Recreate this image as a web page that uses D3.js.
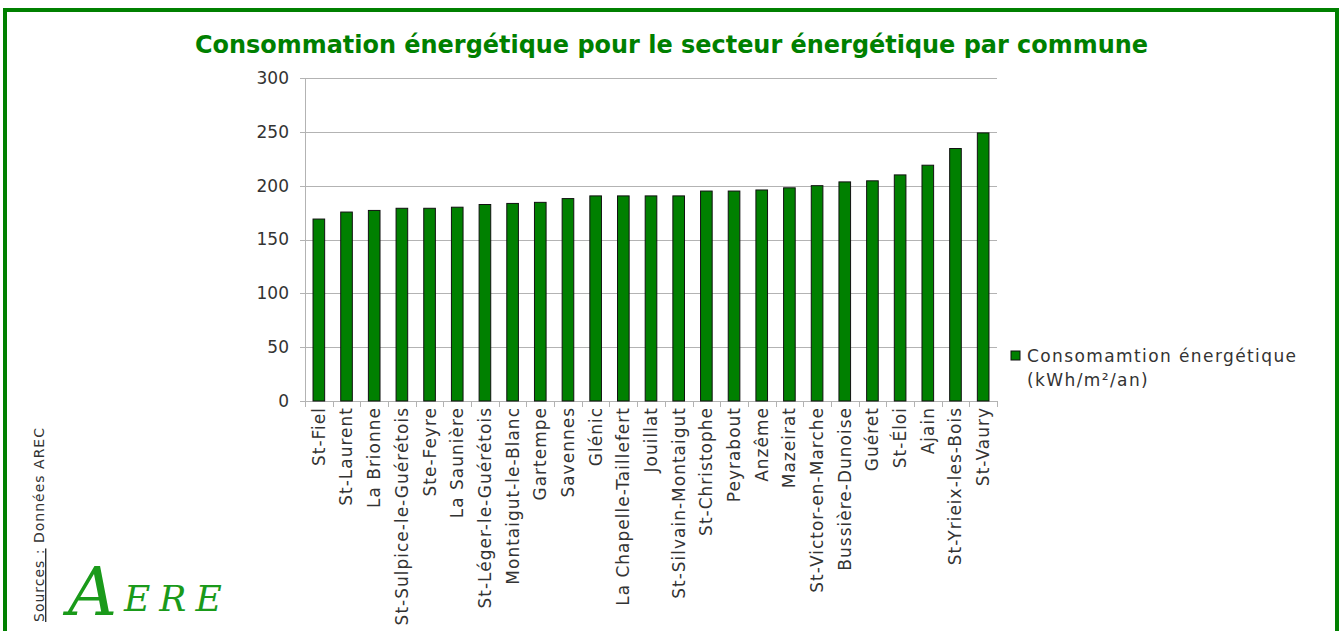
<!DOCTYPE html>
<html>
<head>
<meta charset="utf-8">
<script src="https://cdn.jsdelivr.net/npm/d3@7"></script>
<style>
  body { margin: 0; background: #fff; }
  svg { display: block; }
</style>
</head>
<body>
<div id="wrapper"></div>
<script>
// data
const communes = ["St-Fiel", "St-Laurent", "La Brionne", "St-Sulpice-le-Guérétois", "Ste-Feyre",
  "La Saunière", "St-Léger-le-Guérétois", "Montaigut-le-Blanc", "Gartempe", "Savennes",
  "Glénic", "La Chapelle-Taillefert", "Jouillat", "St-Silvain-Montaigut", "St-Christophe",
  "Peyrabout", "Anzême", "Mazeirat", "St-Victor-en-Marche", "Bussière-Dunoise",
  "Guéret", "St-Éloi", "Ajain", "St-Yrieix-les-Bois", "St-Vaury"]
const consommation = [169, 175.5, 177, 179, 179, 180, 182.5, 183.5, 184.5, 188,
  190.5, 190.5, 190.5, 190.5, 195, 195, 196, 198, 200, 203.5,
  204.5, 210, 219, 234.5, 249]
const yTicks = [0, 50, 100, 150, 200, 250, 300]
const titleText = "Consommation énergétique pour le secteur énergétique par commune"
const legendLines = ["Consomamtion énergétique", "(kWh/m²/an)"]

const width = 1343
const height = 631
const font = "'DejaVu Sans', sans-serif"
const green = "#008000"

const svg = d3.select("#wrapper")
  .append("svg")
  .attr("width", width)
  .attr("height", height)

// frame
svg.append("rect")
  .attr("x", 5)
  .attr("y", 10)
  .attr("width", 1332)
  .attr("height", 640)
  .attr("fill", "none")
  .attr("stroke", green)
  .attr("stroke-width", 4)

// title
svg.append("text")
  .attr("x", 195)
  .attr("y", 53)
  .attr("textLength", 953)
  .attr("lengthAdjust", "spacingAndGlyphs")
  .attr("fill", green)
  .style("font-family", font)
  .style("font-weight", "bold")
  .style("font-size", "24px")
  .text(titleText)

// plot area
const plot = { left: 305, right: 997, top: 78, bottom: 401 }

const xScale = d3.scaleBand()
  .domain(communes)
  .range([plot.left, plot.right])
  .paddingInner(0.58)
  .paddingOuter(0.29)

const yScale = d3.scaleLinear()
  .domain([0, 300])
  .range([plot.bottom, plot.top])

// gridlines
svg.append("g")
  .selectAll("line")
  .data(yTicks)
  .join("line")
  .attr("x1", plot.left - 5)
  .attr("x2", plot.right)
  .attr("y1", d => Math.round(yScale(d)) + 0.5)
  .attr("y2", d => Math.round(yScale(d)) + 0.5)
  .attr("stroke", "#b3b3b3")
  .attr("stroke-width", 1)

// y axis line
svg.append("line")
  .attr("x1", plot.left + 0.5)
  .attr("x2", plot.left + 0.5)
  .attr("y1", plot.top)
  .attr("y2", plot.bottom)
  .attr("stroke", "#b3b3b3")

// y labels
svg.append("g")
  .selectAll("text")
  .data(yTicks)
  .join("text")
  .attr("x", plot.left - 16)
  .attr("y", d => yScale(d))
  .attr("dy", "0.35em")
  .attr("text-anchor", "end")
  .attr("fill", "#333")
  .style("font-family", font)
  .style("font-size", "17px")
  .text(d => d)

// x tick marks between categories
const step = xScale.step()
svg.append("g")
  .selectAll("line")
  .data(d3.range(communes.length + 1))
  .join("line")
  .attr("x1", i => Math.round(plot.left + i * step) + 0.5)
  .attr("x2", i => Math.round(plot.left + i * step) + 0.5)
  .attr("y1", plot.bottom)
  .attr("y2", plot.bottom + 6)
  .attr("stroke", "#b3b3b3")

// bars
svg.append("g")
  .selectAll("rect")
  .data(communes)
  .join("rect")
  .attr("x", d => xScale(d))
  .attr("y", (d, i) => yScale(consommation[i]))
  .attr("width", xScale.bandwidth())
  .attr("height", (d, i) => plot.bottom - yScale(consommation[i]))
  .attr("fill", green)
  .attr("stroke", "#111")
  .attr("stroke-width", 1)

// x labels
svg.append("g")
  .selectAll("text")
  .data(communes)
  .join("text")
  .attr("transform", d => `translate(${xScale(d) + xScale.bandwidth() / 2}, ${plot.bottom + 6}) rotate(-90)`)
  .attr("dy", "0.35em")
  .attr("text-anchor", "end")
  .attr("fill", "#333")
  .style("font-family", font)
  .style("font-size", "17px")
  .style("letter-spacing", "1px")
  .text(d => d)

// legend
svg.append("rect")
  .attr("x", 1011)
  .attr("y", 351)
  .attr("width", 9)
  .attr("height", 9)
  .attr("fill", green)
  .attr("stroke", "#111")

svg.append("g")
  .selectAll("text")
  .data(legendLines)
  .join("text")
  .attr("x", 1027)
  .attr("y", (d, i) => 362 + i * 24)
  .attr("fill", "#333")
  .style("font-family", font)
  .style("font-size", "17px")
  .style("letter-spacing", "1.4px")
  .text(d => d)

// sources
const src = svg.append("text")
  .attr("transform", "translate(44, 622) rotate(-90)")
  .attr("fill", "#333")
  .style("font-family", font)
  .style("font-size", "14px")
  .style("letter-spacing", "1px")
src.append("tspan")
  .style("text-decoration", "underline")
  .text("Sources :")
src.append("tspan")
  .text(" Données AREC")

// logo
svg.append("text")
  .attr("x", 68)
  .attr("y", 615)
  .attr("fill", "#1a9a1a")
  .style("font-family", "'DejaVu Serif', serif")
  .style("font-style", "italic")
  .style("font-size", "68px")
  .text("A")
svg.append("text")
  .attr("x", 124)
  .attr("y", 611)
  .attr("fill", "#1a9a1a")
  .style("font-family", "'DejaVu Serif', serif")
  .style("font-style", "italic")
  .style("font-size", "36px")
  .style("letter-spacing", "9px")
  .text("ERE")
</script>
</body>
</html>
